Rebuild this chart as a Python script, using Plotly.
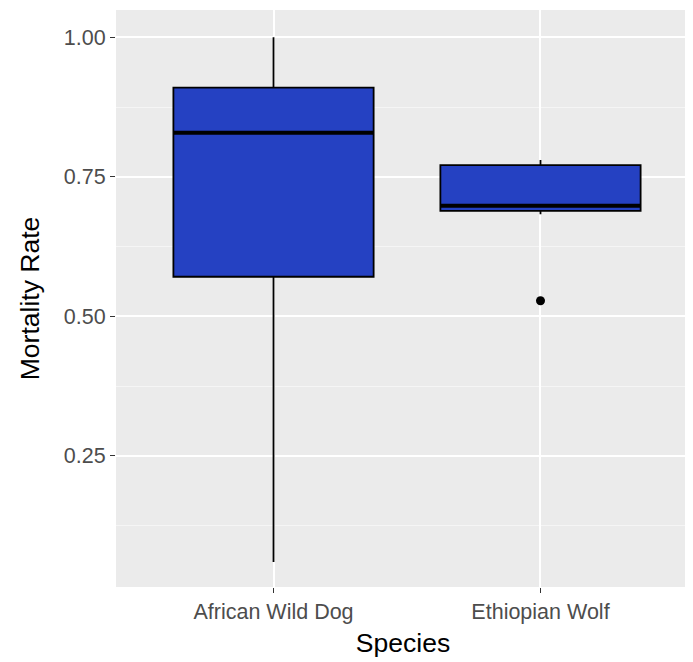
import plotly.graph_objects as go

species = ["African Wild Dog", "Ethiopian Wolf"]
lower = [0.06, 0.683]
q1 = [0.571, 0.689]
median = [0.829, 0.698]
q3 = [0.910, 0.771]
upper = [1.00, 0.780]
outlier_species = ["Ethiopian Wolf"]
outlier_values = [0.528]

pos = [1, 2]
box_w = 0.75
fill = "#2541C2"

fig = go.Figure()
for i, s in enumerate(species):
    fig.add_trace(go.Box(
        x=[pos[i]], q1=[q1[i]], median=[median[i]], q3=[q3[i]],
        lowerfence=[lower[i]], upperfence=[upper[i]],
        width=box_w, whiskerwidth=0, boxpoints=False,
        fillcolor=fill, line=dict(color="black", width=1.8),
        showlegend=False, hoverinfo="skip", name=s))
    fig.add_trace(go.Scatter(
        x=[pos[i] - box_w / 2, pos[i] + box_w / 2], y=[median[i], median[i]],
        mode="lines", line=dict(color="black", width=4),
        showlegend=False, hoverinfo="skip"))

fig.add_trace(go.Scatter(
    x=[pos[species.index(s)] for s in outlier_species], y=outlier_values,
    mode="markers", marker=dict(color="black", size=9),
    showlegend=False, hoverinfo="skip"))

fig.update_layout(
    width=685, height=654,
    margin=dict(l=108, r=3, t=2, b=75),
    paper_bgcolor="white", plot_bgcolor="#EBEBEB",
    font=dict(family="Liberation Sans, Arial, sans-serif", color="#4D4D4D"),
    xaxis=dict(
        range=[0.41, 2.56], tickvals=pos, ticktext=species,
        showgrid=True, gridcolor="white", gridwidth=2, zeroline=False,
        ticks="outside", ticklen=5, tickcolor="#333333", tickwidth=1,
        tickfont=dict(size=21.5, color="#4D4D4D"),
        title=dict(text="Species", font=dict(size=26.5, color="black"), standoff=10),
    ),
    yaxis=dict(
        range=[0.015, 1.049], tickvals=[0.25, 0.5, 0.75, 1.0], tickformat=".2f",
        showgrid=True, gridcolor="white", gridwidth=2, zeroline=False,
        ticks="outside", ticklen=5, tickcolor="#333333", tickwidth=1,
        tickfont=dict(size=21.5, color="#4D4D4D"),
        minor=dict(tickvals=[0.125, 0.375, 0.625, 0.875], showgrid=True,
                   gridcolor="#F5F5F5", gridwidth=1, ticks=""),
        title=dict(text="Mortality Rate", font=dict(size=26.5, color="black"), standoff=16),
    ),
)

fig.write_html("out.html")
